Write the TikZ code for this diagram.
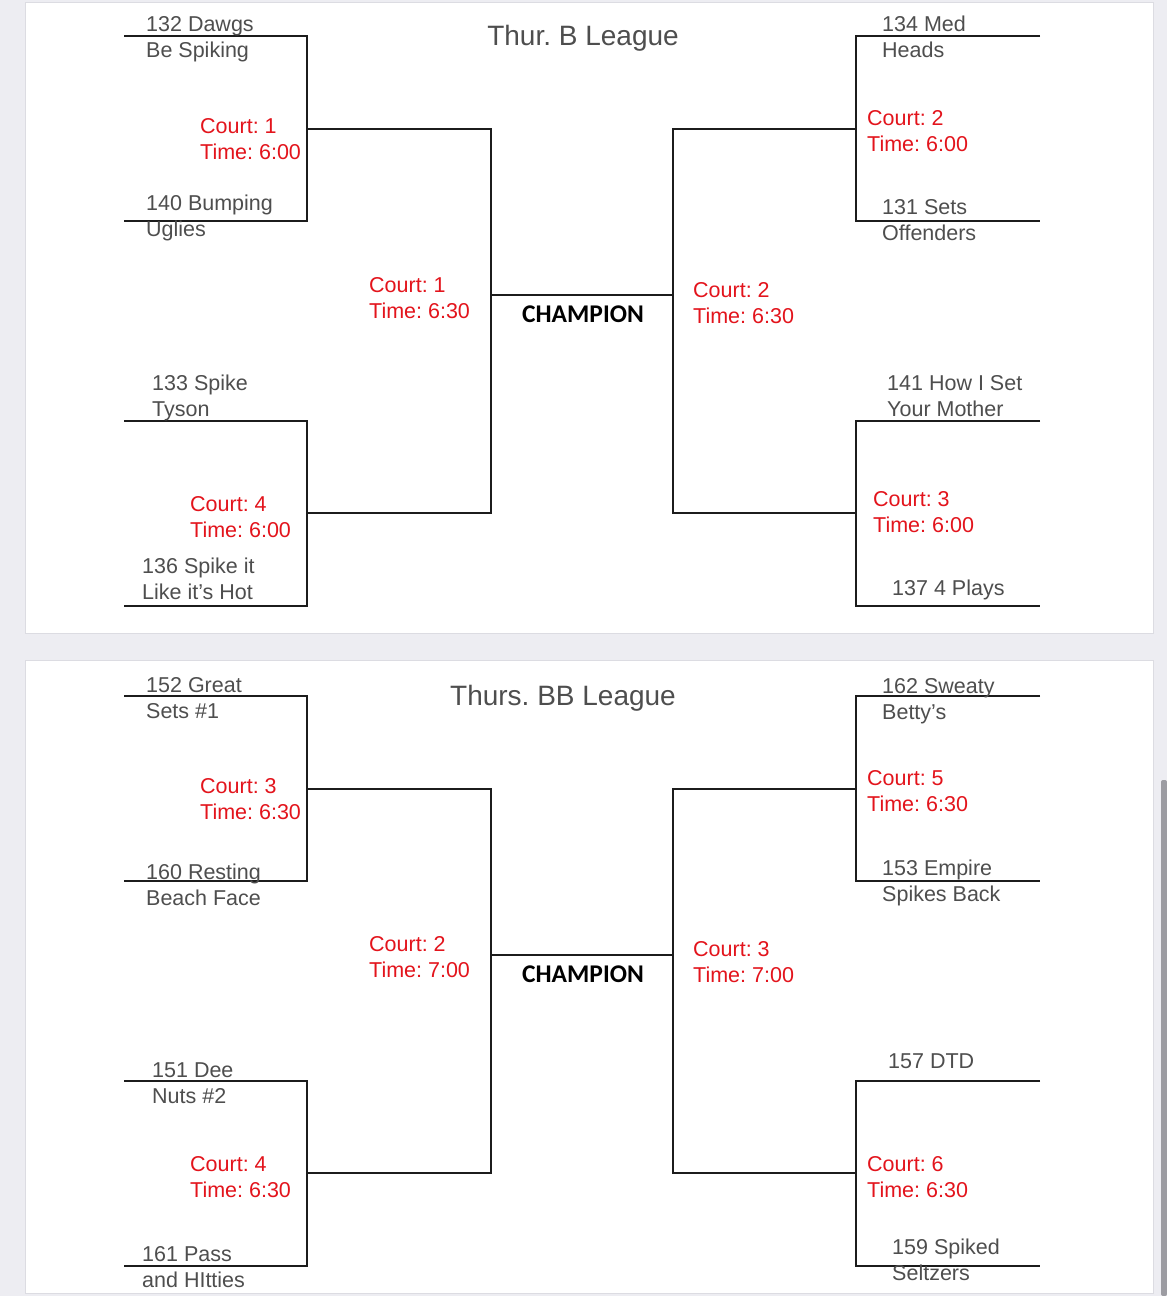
\documentclass[tikz,border=0pt]{standalone}
\usepackage{fontspec}
\setmainfont{Liberation Sans}
\newfontfamily\champfont{Carlito}
\frenchspacing
\definecolor{pagebg}{HTML}{EDEDF2}
\definecolor{paneledge}{HTML}{DCDCE2}
\definecolor{teamgray}{HTML}{4E4E4E}
\definecolor{slotred}{HTML}{E3141C}
\definecolor{linecol}{HTML}{1C1C1C}
\definecolor{scrollgray}{HTML}{9C9CA2}
\newcommand\mybracket[1]{%
  \coordinate (#1-a1) at (124,36);  \coordinate (#1-a2) at (307,36);
  \coordinate (#1-b1) at (124,221); \coordinate (#1-b2) at (307,221);
  \coordinate (#1-ab) at (307,129);
  \coordinate (#1-c1) at (124,421); \coordinate (#1-c2) at (307,421);
  \coordinate (#1-d1) at (124,606); \coordinate (#1-d2) at (307,606);
  \coordinate (#1-cd) at (307,513);
  \coordinate (#1-s1) at (491,129); \coordinate (#1-s2) at (491,513);
  \coordinate (#1-k1) at (491,295); \coordinate (#1-k2) at (673,295);
  \coordinate (#1-s3) at (673,129); \coordinate (#1-s4) at (673,513);
  \coordinate (#1-e1) at (1040,36);  \coordinate (#1-e2) at (856,36);
  \coordinate (#1-f1) at (1040,221); \coordinate (#1-f2) at (856,221);
  \coordinate (#1-ef) at (856,129);
  \coordinate (#1-g1) at (1040,421); \coordinate (#1-g2) at (856,421);
  \coordinate (#1-h1) at (1040,606); \coordinate (#1-h2) at (856,606);
  \coordinate (#1-gh) at (856,513);
  \draw[brk] (#1-a1) -- (#1-a2) -- (#1-b2) -- (#1-b1);
  \draw[brk] (#1-c1) -- (#1-c2) -- (#1-d2) -- (#1-d1);
  \draw[brk] (#1-ab) -- (#1-s1) -- (#1-s2) -- (#1-cd);
  \draw[brk] (#1-k1) -- (#1-k2);
  \draw[brk] (#1-ef) -- (#1-s3) -- (#1-s4) -- (#1-gh);
  \draw[brk] (#1-e1) -- (#1-e2) -- (#1-f2) -- (#1-f1);
  \draw[brk] (#1-g1) -- (#1-g2) -- (#1-h2) -- (#1-h1);
}
% #1 name, #2 x, #3 baseline y, #4 first line, #5 second line, #6 style
\newcommand\twoline[6]{%
  \node[#6] (#1-1) at (#2,#3) {#4};
  \node[#6] (#1-2) at (#2,#3+26.5) {#5};
}
\begin{document}
\begin{tikzpicture}[x=1pt,y=-1pt,
  team/.style={anchor=base west, inner sep=0pt, text=teamgray, font=\fontsize{21.5}{26}\selectfont},
  slot/.style={anchor=base west, inner sep=0pt, text=slotred, font=\fontsize{21.5}{26}\selectfont},
  brk/.style={draw=linecol, line width=2.2pt},
  league/.style={anchor=base, inner sep=0pt, text=teamgray, font=\fontsize{28}{32}\selectfont},
  champ/.style={anchor=base, inner sep=0pt, text=black, font=\champfont\bfseries\fontsize{25.5}{30}\selectfont},
  panel/.style={fill=white, draw=paneledge, line width=1pt}]
\useasboundingbox (0,0) rectangle (1167,1296);
\fill[pagebg] (0,0) rectangle (1167,1296);
\path[panel] (25,2) rectangle (1153,633);
\path[panel] (25,660) rectangle (1153,1293);
\fill[scrollgray, rounded corners=2pt] (1161,780) rectangle (1167,1296);

% ---------- top panel ----------
\begin{scope}
  \mybracket{T}
  \node[league] (T-title) at (583,45) {Thur. B League};
  \node[champ] (T-champ) at (583,322) {CHAMPION};
  \twoline{T-t1}{146}{31}{132 Dawgs}{Be Spiking}{team}
  \twoline{T-m1}{200}{133}{Court: 1}{Time: 6:00}{slot}
  \twoline{T-t2}{146}{210}{140 Bumping}{Uglies}{team}
  \twoline{T-m2}{369}{292}{Court: 1}{Time: 6:30}{slot}
  \twoline{T-t3}{152}{390}{133 Spike}{Tyson}{team}
  \twoline{T-m3}{190}{511}{Court: 4}{Time: 6:00}{slot}
  \twoline{T-t4}{142}{573}{136 Spike it}{Like it’s Hot}{team}
  \twoline{T-t5}{882}{31}{134 Med}{Heads}{team}
  \twoline{T-m4}{867}{125}{Court: 2}{Time: 6:00}{slot}
  \twoline{T-t6}{882}{214}{131 Sets}{Offenders}{team}
  \twoline{T-m5}{693}{297}{Court: 2}{Time: 6:30}{slot}
  \twoline{T-t7}{887}{390}{141 How I Set}{Your Mother}{team}
  \twoline{T-m6}{873}{506}{Court: 3}{Time: 6:00}{slot}
  \node[team] (T-t8) at (892,595) {137 4 Plays};
\end{scope}

% ---------- bottom panel ----------
\begin{scope}[yshift=-660pt]
  \mybracket{B}
  \node[league] (B-title) at (563,45) {Thurs. BB League};
  \node[champ] (B-champ) at (583,322) {CHAMPION};
  \twoline{B-t1}{146}{32}{152 Great}{Sets \#1}{team}
  \twoline{B-m1}{200}{133}{Court: 3}{Time: 6:30}{slot}
  \twoline{B-t2}{146}{219}{160 Resting}{Beach Face}{team}
  \twoline{B-m2}{369}{291}{Court: 2}{Time: 7:00}{slot}
  \twoline{B-t3}{152}{417}{151 Dee}{Nuts \#2}{team}
  \twoline{B-m3}{190}{511}{Court: 4}{Time: 6:30}{slot}
  \twoline{B-t4}{142}{601}{161 Pass}{and HItties}{team}
  \twoline{B-t5}{882}{33}{162 Sweaty}{Betty’s}{team}
  \twoline{B-m4}{867}{125}{Court: 5}{Time: 6:30}{slot}
  \twoline{B-t6}{882}{215}{153 Empire}{Spikes Back}{team}
  \twoline{B-m5}{693}{296}{Court: 3}{Time: 7:00}{slot}
  \node[team] (B-t7) at (888,408) {157 DTD};
  \twoline{B-m6}{867}{511}{Court: 6}{Time: 6:30}{slot}
  \twoline{B-t8}{892}{594}{159 Spiked}{Seltzers}{team}
\end{scope}
\end{tikzpicture}
\end{document}
